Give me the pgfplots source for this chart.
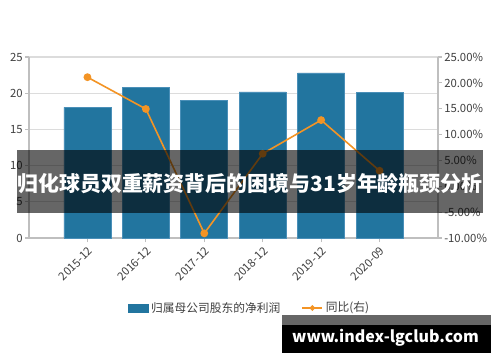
\documentclass[border=0pt]{standalone}
\usepackage{fontspec}
\setmainfont{Noto Sans CJK SC}
\usepackage{pgfplots}
\pgfplotsset{compat=1.18}
\definecolor{barblue}{HTML}{22759F}
\definecolor{baredge}{HTML}{4A8FB8}
\definecolor{lineor}{HTML}{F39425}
\definecolor{gridc}{HTML}{DCDCDC}
\definecolor{axc}{HTML}{BFBFBF}
\definecolor{txt}{HTML}{404040}
\definecolor{wmgray}{HTML}{666666}
\begin{document}
\begin{tikzpicture}[x=0.75pt,y=0.75pt]
\path[use as bounding box, fill=white] (0,0) rectangle (500,362);
\begin{axis}[
  at={(21.75pt,93pt)}, anchor=south west,
  scale only axis, width=306.75pt, height=135.75pt,
  xmin=-1, xmax=6, ymin=0, ymax=25,
  xtick={0,1,2,3,4,5},
  xticklabels={2015-12,2016-12,2017-12,2018-12,2019-12,2020-09},
  ytick={0,5,10,15,20,25},
  ymajorgrids, grid style={gridc, line width=0.8pt},
  axis y line*=left, axis x line*=bottom,
  axis line style={axc, line width=0.8pt, -},
  tick style={axc, line width=0.8pt},
  major tick length=3pt,
  xtick align=outside, ytick align=outside,
  tick label style={font=\fontsize{8.5}{10}\selectfont, text=txt},
  /pgf/number format/assume math mode=true,
  xticklabel style={rotate=45, anchor=north east, inner sep=2pt},
  yticklabel style={inner sep=1.5pt},
  ybar, bar width=35.25pt,
]
\addplot[fill=barblue, draw=baredge, line width=0.5pt] coordinates {
  (0,18.05) (1,20.8) (2,18.96) (3,20.17) (4,22.8) (5,20.07)};
\end{axis}
\begin{axis}[
  at={(21.75pt,93pt)}, anchor=south west,
  scale only axis, width=306.75pt, height=135.75pt,
  xmin=-1, xmax=6, ymin=-10, ymax=25,
  axis x line=none,
  axis y line*=right,
  axis line style={axc, line width=0.8pt, -},
  tick style={axc, line width=0.8pt},
  major tick length=3pt, ytick align=outside,
  ytick={-10,-5,0,5,10,15,20,25},
  yticklabel={\pgfmathprintnumber[fixed,fixed zerofill,precision=2]{\tick}\%},
  tick label style={font=\fontsize{8.5}{10}\selectfont, text=txt},
  /pgf/number format/assume math mode=true,
  yticklabel style={inner sep=1.5pt},
  legend style={at={(0.54,-0.387)}, anchor=center, legend columns=2, draw=none,
    fill=none, font=\fontsize{8.8}{10}\selectfont, text=txt,
    /tikz/every even column/.append style={column sep=14pt}},
]
\addlegendimage{legend image code/.code={\fill[barblue] (0pt,-3pt) rectangle (15pt,3pt);}}
\addlegendentry{归属母公司股东的净利润}
\addplot[color=lineor, line width=1.2pt, mark=*, mark size=2.3pt, mark options={fill=lineor, draw=lineor},
  legend image code/.code={\draw[lineor, line width=1.2pt] (0pt,0pt) -- (15pt,0pt); \fill[lineor] (7.5pt,0pt) circle (1.4pt);}]
  coordinates {(0,21.1) (1,14.95) (2,-9.1) (3,6.3) (4,12.8) (5,3.0)};
\addlegendentry{同比(右)}
\end{axis}
\fill[black, opacity=0.6] (17,149.3) rectangle (483,212);
\node[text=white, inner sep=0pt] at (250,178) {\resizebox{349pt}{!}{\bfseries 归化球员双重薪资背后的困境与31岁年龄瓶颈分析}};
\fill[wmgray] (282,37) rectangle (491,47);
\fill[black] (282,9.3) rectangle (491,37);
\node[text=white, inner sep=0pt] at (385.5,24.5) {\resizebox{140pt}{!}{\bfseries www.index-lgclub.com}};
\end{tikzpicture}
\end{document}
